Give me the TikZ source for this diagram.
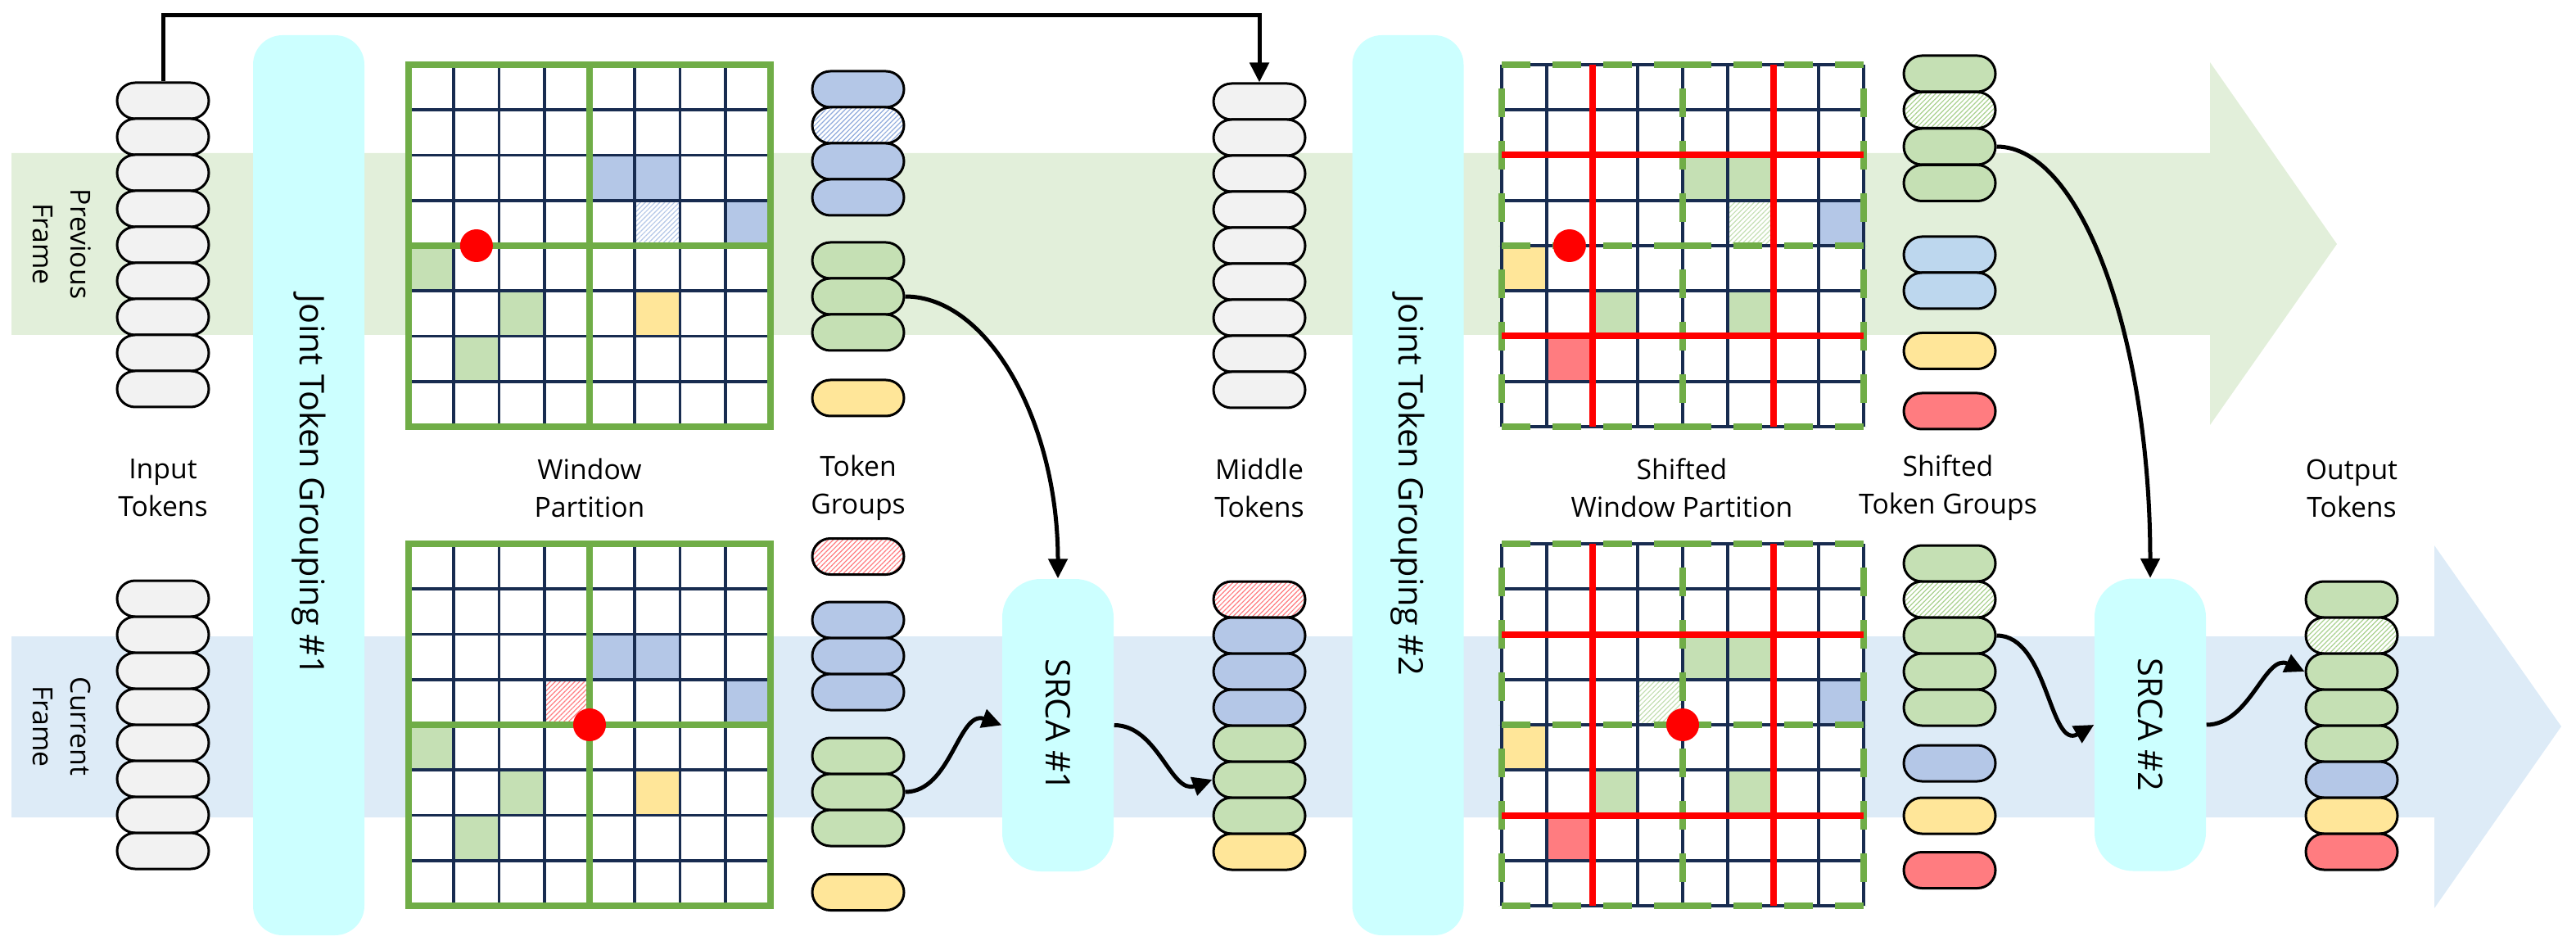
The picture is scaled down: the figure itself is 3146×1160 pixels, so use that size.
\documentclass[tikz,border=0pt]{standalone}
\usepackage{fontspec}
\setmainfont{Open Sans}
\usetikzlibrary{shapes.misc,patterns.meta,arrows.meta}

\definecolor{bandgreen}{RGB}{226,239,218}
\definecolor{bandblue}{RGB}{221,235,247}
\definecolor{boxcyan}{RGB}{204,255,255}
\definecolor{tokgray}{RGB}{242,242,242}
\definecolor{tokblue}{RGB}{180,199,231}
\definecolor{toksky}{RGB}{189,215,238}
\definecolor{tokgreen}{RGB}{197,224,180}
\definecolor{tokyellow}{RGB}{255,230,153}
\definecolor{tokpink}{RGB}{255,124,128}
\definecolor{hatchblue}{RGB}{143,170,220}
\definecolor{hatchgreen}{RGB}{169,209,142}
\definecolor{winnavy}{RGB}{24,44,80}
\definecolor{wingreen}{RGB}{112,173,71}

\tikzstyle{token}=[rounded rectangle, draw=black, line width=0.3mm, minimum width=11.2mm, minimum height=4.4mm, inner sep=0pt]
\tikzstyle{hatch}=[preaction={fill=white}, pattern={Lines[angle=45,distance=0.42mm,line width=0.12mm]}]
\tikzstyle{tgray}=[token, fill=tokgray]
\tikzstyle{tblue}=[token, fill=tokblue]
\tikzstyle{tsky}=[token, fill=toksky]
\tikzstyle{tgreen}=[token, fill=tokgreen]
\tikzstyle{tyellow}=[token, fill=tokyellow]
\tikzstyle{tpink}=[token, fill=tokpink]
\tikzstyle{hblue}=[token, hatch, pattern color=hatchblue]
\tikzstyle{hgreen}=[token, hatch, pattern color=hatchgreen]
\tikzstyle{hred}=[token, hatch, pattern color=tokpink]
\tikzstyle{block}=[fill=boxcyan, inner sep=0pt, minimum width=13.6mm, font=\fontsize{11.8}{14}\selectfont]
\tikzstyle{caption}=[align=center, inner sep=0pt, font=\fontsize{9.6}{13.1}\selectfont]
\tikzstyle{flow}=[line width=0.5mm, -{Triangle[length=2.4mm,width=2.3mm]}]
\tikzstyle{cellline}=[winnavy, line width=0.36mm]
\tikzstyle{window}=[wingreen, line width=0.85mm]
\tikzstyle{winh}=[wingreen, line width=0.85mm, dash pattern=on 3.5mm off 2.7mm]
\tikzstyle{winv}=[wingreen, line width=0.85mm, dash pattern=on 3.5mm off 2.9mm, dash phase=3.5mm]
\tikzstyle{cutline}=[red, line width=0.8mm]

\begin{document}
\begin{tikzpicture}[x=0.1mm, y=-0.1mm]
  \useasboundingbox (0,0) rectangle (3146,1160);
  %The two frame bands
  \fill[bandgreen] (14,187) -- (2699,187) -- (2699,76) -- (2854,298) -- (2699,519) -- (2699,409) -- (14,409) -- cycle;
  \fill[bandblue] (14,777) -- (2973,777) -- (2973,666) -- (3128,887) -- (2973,1109) -- (2973,998) -- (14,998) -- cycle;
  \node[caption, rotate=-90] (lab-prev) at (76,298) {Previous\\Frame};
  \node[caption, rotate=-90] (lab-cur) at (76,887) {Current\\Frame};

  %Grouping and attention blocks
  \node[block, minimum height=109.9mm, rounded corners=3.6mm] (jtg1) at (377,592.5) {\rotatebox{-90}{Joint Token Grouping \#1}};
  \node[block, minimum height=109.9mm, rounded corners=3.6mm] (jtg2) at (1719.5,592.5) {\rotatebox{-90}{Joint Token Grouping \#2}};
  \node[block, minimum height=35.7mm, rounded corners=4.7mm] (srca1) at (1292,885.5) {\rotatebox{-90}{SRCA \#1}};
  \node[block, minimum height=35.7mm, rounded corners=4.7mm] (srca2) at (2626,885) {\rotatebox{-90}{SRCA \#2}};

  %Window partition
  \begin{scope}[shift={(499,79)}, x=5.525mm, y=-5.525mm]
    \fill[white] (0,0) rectangle (8,8);
    \foreach \r/\c/\col in {2/4/tokblue, 2/5/tokblue, 3/7/tokblue, 4/0/tokgreen, 5/2/tokgreen, 6/1/tokgreen, 5/5/tokyellow}
      \fill[\col] (\c,\r) rectangle ++(1,1);
    \path[hatch, pattern color=tokblue] (5,3) rectangle ++(1,1);
    \foreach \i in {0,...,8}
      \draw[cellline] (\i,0) -- (\i,8) (0,\i) -- (8,\i);
    \draw[window] (0,0) rectangle (8,8) (4,0) -- (4,8) (0,4) -- (8,4);
    \fill[red] (1.5,4) circle (2mm);
  \end{scope}
  \begin{scope}[shift={(499,664)}, x=5.525mm, y=-5.525mm]
    \fill[white] (0,0) rectangle (8,8);
    \foreach \r/\c/\col in {2/4/tokblue, 2/5/tokblue, 3/7/tokblue, 4/0/tokgreen, 5/2/tokgreen, 6/1/tokgreen, 5/5/tokyellow}
      \fill[\col] (\c,\r) rectangle ++(1,1);
    \path[hatch, pattern color=tokpink] (3,3) rectangle ++(1,1);
    \foreach \i in {0,...,8}
      \draw[cellline] (\i,0) -- (\i,8) (0,\i) -- (8,\i);
    \draw[window] (0,0) rectangle (8,8) (4,0) -- (4,8) (0,4) -- (8,4);
    \fill[red] (4,4) circle (2mm);
  \end{scope}

  %Shifted window partition
  \begin{scope}[shift={(1834,79)}, x=5.525mm, y=-5.525mm]
    \fill[white] (0,0) rectangle (8,8);
    \foreach \r/\c/\col in {2/4/tokgreen, 2/5/tokgreen, 5/2/tokgreen, 5/5/tokgreen, 3/7/tokblue, 4/0/tokyellow, 6/1/tokpink}
      \fill[\col] (\c,\r) rectangle ++(1,1);
    \path[hatch, pattern color=tokgreen] (5,3) rectangle ++(1,1);
    \foreach \i in {0,...,8}
      \draw[cellline] (\i,0) -- (\i,8) (0,\i) -- (8,\i);
    \foreach \i in {0,4,8} {
      \draw[winh] (0,\i) -- (4,\i);
      \draw[winh] (4,\i) -- (8,\i);
      \draw[winv] (\i,0) -- (\i,4);
      \draw[winv] (\i,4) -- (\i,8);
    }
    \draw[cutline] (2,0) -- (2,8) (6,0) -- (6,8) (0,2) -- (8,2) (0,6) -- (8,6);
    \fill[red] (1.5,4) circle (2mm);
  \end{scope}
  \begin{scope}[shift={(1834,664)}, x=5.525mm, y=-5.525mm]
    \fill[white] (0,0) rectangle (8,8);
    \foreach \r/\c/\col in {2/4/tokgreen, 2/5/tokgreen, 5/2/tokgreen, 5/5/tokgreen, 3/7/tokblue, 4/0/tokyellow, 6/1/tokpink}
      \fill[\col] (\c,\r) rectangle ++(1,1);
    \path[hatch, pattern color=tokgreen] (3,3) rectangle ++(1,1);
    \foreach \i in {0,...,8}
      \draw[cellline] (\i,0) -- (\i,8) (0,\i) -- (8,\i);
    \foreach \i in {0,4,8} {
      \draw[winh] (0,\i) -- (4,\i);
      \draw[winh] (4,\i) -- (8,\i);
      \draw[winv] (\i,0) -- (\i,4);
      \draw[winv] (\i,4) -- (\i,8);
    }
    \draw[cutline] (2,0) -- (2,8) (6,0) -- (6,8) (0,2) -- (8,2) (0,6) -- (8,6);
    \fill[red] (4,4) circle (2mm);
  \end{scope}

  %Input and middle tokens
  \foreach \i in {0,...,8}
    \node[tgray] (inp-\i) at (199,{123+44*\i}) {};
  \foreach \i in {0,...,7}
    \node[tgray] (inc-\i) at (199,{731+44*\i}) {};
  \foreach \i in {0,...,8}
    \node[tgray] (midp-\i) at (1538,{124+44*\i}) {};
  \foreach \sty/\y [count=\n] in {hred/732, tblue/776, tblue/820, tblue/864, tgreen/908, tgreen/952, tgreen/996, tyellow/1040}
    \node[\sty] (midc-\n) at (1538,\y) {};

  %Token groups
  \foreach \sty/\y [count=\n] in {tblue/109, hblue/153, tblue/197, tblue/241, tgreen/318, tgreen/362, tgreen/406, tyellow/486}
    \node[\sty] (tgp-\n) at (1048,\y) {};
  \foreach \sty/\y [count=\n] in {hred/679.5, tblue/757, tblue/801, tblue/845, tgreen/923, tgreen/967, tgreen/1011, tyellow/1089.5}
    \node[\sty] (tgc-\n) at (1048,\y) {};
  \foreach \sty/\y [count=\n] in {tgreen/90, hgreen/134.5, tgreen/179, tgreen/223.5, tsky/311, tsky/355, tyellow/428.5, tpink/502}
    \node[\sty] (sgp-\n) at (2381,\y) {};
  \foreach \sty/\y [count=\n] in {tgreen/688, hgreen/732, tgreen/776, tgreen/820, tgreen/864, tblue/932, tyellow/996, tpink/1062.5}
    \node[\sty] (sgc-\n) at (2381,\y) {};

  %Output tokens
  \foreach \sty/\y [count=\n] in {tgreen/732, hgreen/776, tgreen/820, tgreen/864, tgreen/908, tblue/952, tyellow/996, tpink/1040}
    \node[\sty] (out-\n) at (2872,\y) {};

  %Captions
  \node[caption] (cap-inp) at (199,596) {Input\\Tokens};
  \node[caption] (cap-win) at (720,596) {Window\\Partition};
  \node[caption] (cap-tg) at (1048,596) {Token\\Groups};
  \node[caption] (cap-mid) at (1538,596) {Middle\\Tokens};
  \node[caption] (cap-swin) at (2054,596) {Shifted\\Window Partition};
  \node[caption] (cap-sg) at (2379,596) {Shifted\\Token Groups};
  \node[caption] (cap-out) at (2872,596) {Output\\Tokens};

  %Connectors
  \draw[flow] (inp-0.north) -- ++(0,-81) -| (midp-0.north);
  \draw[flow] (tgp-6.east) .. controls +(102,0) and +(0,-190) .. (srca1.north);
  \draw[flow] (tgc-6.east) to[out=0,in=160] (srca1.west);
  \draw[flow] (srca1.east) to[out=0,in=200] (midc-6.west);
  \draw[flow] (sgp-3.east) .. controls +(104,0) and +(0,-291) .. (srca2.north);
  \draw[flow] (sgc-3.east) to[out=0,in=210] (srca2.west);
  \draw[flow] (srca2.east) to[out=0,in=155] (out-3.west);
\end{tikzpicture}
\end{document}
